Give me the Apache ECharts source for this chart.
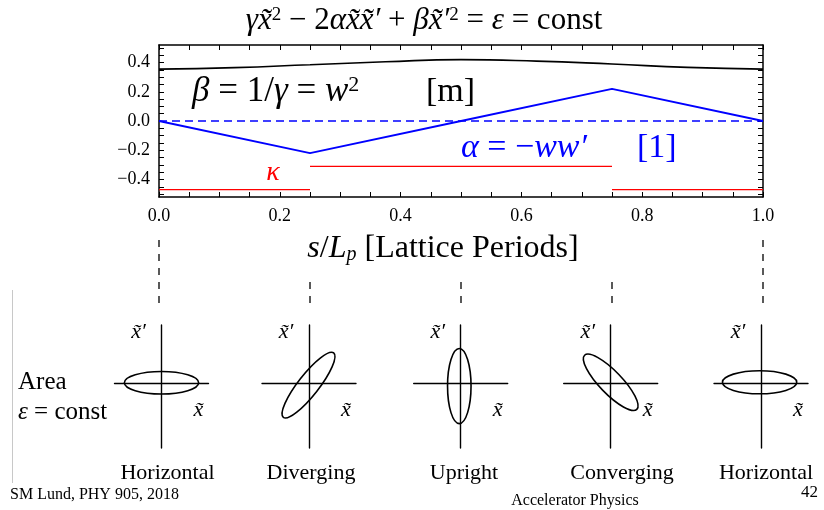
<!DOCTYPE html>
<html><head><meta charset="utf-8">
<script src="https://cdn.jsdelivr.net/npm/echarts@6/dist/echarts.min.js"></script>
<style>html,body{margin:0;padding:0;background:#fff}#c{width:824px;height:510px}</style>
</head><body><div id="c"></div>
<script>
// ---- data ----
const sBeta = [0, 0.125, 0.25, 0.375, 0.5, 0.625, 0.75, 0.875, 1.0];
const beta  = [0.355, 0.365, 0.385, 0.405, 0.42, 0.41, 0.39, 0.367, 0.355];
const sAlpha = [0, 0.25, 0.5, 0.75, 1.0];
const alpha  = [0, -0.22, 0, 0.22, 0];
const kappaStart = [0, 0.25, 0.75];
const kappaEnd   = [0.25, 0.75, 1.0];
const kappaVal   = [-0.47, -0.31, -0.47];
const zeroS = [0, 1];
const zeroV = [0, 0];
const xTicks = [0, 0.2, 0.4, 0.6, 0.8, 1.0];
const xMinor = [0,0.05,0.1,0.15,0.2,0.25,0.3,0.35,0.4,0.45,0.5,0.55,0.6,0.65,0.7,0.75,0.8,0.85,0.9,0.95,1.0];
const yTicks = [-0.4, -0.2, 0, 0.2, 0.4];
const yMinor = [-0.5,-0.45,-0.4,-0.35,-0.3,-0.25,-0.2,-0.15,-0.1,-0.05,0,0.05,0.1,0.15,0.2,0.25,0.3,0.35,0.4,0.45,0.5];
const stations = [0, 0.25, 0.5, 0.75, 1.0];
const stationNames = ['Horizontal', 'Diverging', 'Upright', 'Converging', 'Horizontal'];
const connectorTop = [1, 0.39, 0.39, 0.39, 1];
const ellipseCx = [0, -0.01, -0.03, 0, -0.03];
const ellipseCy = [0.02, -0.03, -0.05, 0.03, 0.03];
const ellipseA = [0.79, 0.87, 0.80, 0.80, 0.79];
const ellipseB = [0.24, 0.22, 0.25, 0.24, 0.245];
const ellipseAngle = [0, 52, 90, -46, 0];

// ---- layout ----
const SERIF = "'Liberation Serif', 'DejaVu Serif', serif";
const diagX = [161.5, 309, 460.7, 610.7, 761];
const nameX = [167.5, 311, 464, 622, 766];
const DW = 94, DTOP = 325, DH = 123;

const grids = [{left: 159, right: 61, top: 45, height: 152}];
diagX.forEach(x => grids.push({left: x - DW / 2, width: DW, top: DTOP, height: DH}));
grids.push({left: 159, right: 61, top: 233, height: 70});
const CONN = grids.length - 1;

const frameLine = {show: true, onZero: false, lineStyle: {color: '#000', width: 1.5}};
function mainX(pos, labels) {
  return {
    gridIndex: 0, type: 'value', min: 0, max: 1, position: pos,
    axisLine: frameLine,
    axisTick: {show: true, inside: true, length: 5, customValues: xMinor, lineStyle: {color: '#000', width: 1}},
    axisLabel: {show: labels, customValues: xTicks, formatter: v => v.toFixed(1), margin: 10,
      color: '#000', fontSize: 18, fontFamily: SERIF},
    splitLine: {show: false}
  };
}
function mainY(pos, labels) {
  return {
    gridIndex: 0, type: 'value', min: -0.52, max: 0.52, position: pos,
    axisLine: frameLine,
    axisTick: {show: true, inside: true, length: 5, customValues: yMinor, lineStyle: {color: '#000', width: 1}},
    axisLabel: {show: labels, customValues: yTicks,
      formatter: v => (v < -1e-9 ? '\u2212' : '') + Math.abs(v).toFixed(1), margin: 9,
      color: '#000', fontSize: 18, fontFamily: SERIF},
    splitLine: {show: false}
  };
}
const xAxes = [mainX('bottom', true), mainX('top', false)];
const yAxes = [mainY('left', true), mainY('right', false)];
xAxes[0].name = '{i|s}{n|/}{i|L}{sub|p}{n| [Lattice Periods]}';
xAxes[0].nameLocation = 'middle';
xAxes[0].nameGap = 36;
xAxes[0].nameTextStyle = {
  padding: [0, 36, 0, 0],
  rich: {
    i: {fontSize: 32, fontStyle: 'italic', fontFamily: SERIF, color: '#000'},
    n: {fontSize: 32, fontFamily: SERIF, color: '#000'},
    sub: {fontSize: 20, fontStyle: 'italic', fontFamily: SERIF, color: '#000', verticalAlign: 'bottom'}
  }
};
const crossLine = {show: true, onZero: true, lineStyle: {color: '#000', width: 1.4}};
for (let i = 0; i < diagX.length; i++) {
  xAxes.push({gridIndex: i + 1, type: 'value', min: -1, max: 1, axisLine: crossLine,
    axisTick: {show: false}, axisLabel: {show: false}, splitLine: {show: false}});
  yAxes.push({gridIndex: i + 1, type: 'value', min: -1.37, max: 1.25, axisLine: crossLine,
    axisTick: {show: false}, axisLabel: {show: false}, splitLine: {show: false}});
}
xAxes.push({gridIndex: CONN, type: 'value', min: 0, max: 1, show: false});
yAxes.push({gridIndex: CONN, type: 'value', min: 0, max: 1, show: false});

// ---- series ----
const series = [];
series.push({type: 'line', xAxisIndex: 0, yAxisIndex: 0, symbol: 'none', smooth: true,
  data: sBeta.map((s, i) => [s, beta[i]]), lineStyle: {color: '#000', width: 1.6}, z: 3});
series.push({type: 'line', xAxisIndex: 0, yAxisIndex: 0, symbol: 'none',
  data: zeroS.map((s, i) => [s, zeroV[i]]), lineStyle: {color: '#0000ff', width: 1.4, type: [8, 5]}, z: 2});
series.push({type: 'line', xAxisIndex: 0, yAxisIndex: 0, symbol: 'none',
  data: sAlpha.map((s, i) => [s, alpha[i]]), lineStyle: {color: '#0000ff', width: 1.8}, z: 3});
kappaVal.forEach((v, i) => series.push({type: 'line', xAxisIndex: 0, yAxisIndex: 0, symbol: 'none',
  data: [[kappaStart[i], v], [kappaEnd[i], v]], lineStyle: {color: '#ff0000', width: 1.3}, z: 3}));
stations.forEach((s, i) => series.push({type: 'line', xAxisIndex: xAxes.length - 1, yAxisIndex: yAxes.length - 1,
  symbol: 'none', clip: false,
  data: [[s, 0], [s, connectorTop[i]]], lineStyle: {color: '#000', width: 1.3, type: [7, 7]}}));
for (let i = 0; i < diagX.length; i++) {
  series.push({
    type: 'custom', xAxisIndex: i + 2, yAxisIndex: i + 2, clip: false,
    data: [[ellipseCx[i], ellipseCy[i], ellipseA[i], ellipseB[i], ellipseAngle[i]]],
    renderItem: function (params, api) {
      const c = api.coord([api.value(0), api.value(1)]);
      const a = api.size([api.value(2), 0])[0];
      const b = api.size([api.value(3), 0])[0];
      return {
        type: 'ellipse', x: c[0], y: c[1], rotation: api.value(4) * Math.PI / 180,
        shape: {cx: 0, cy: 0, rx: a, ry: b},
        style: {fill: 'none', stroke: '#000', lineWidth: 1.6}
      };
    }
  });
}

// ---- text ----
function T(x, y, text, o) {
  o = o || {};
  return {type: 'text', x: x, y: y, z: 10, style: Object.assign({
    text: text, fill: '#000', font: (o.italic ? 'italic ' : '') + (o.size || 20) + 'px ' + SERIF,
    textAlign: o.align || 'left', textVerticalAlign: 'middle'}, o.style || {})};
}
function richStyle(size, color) {
  return {
    i: {fontSize: size, fontStyle: 'italic', fontFamily: SERIF, fill: color},
    n: {fontSize: size, fontFamily: SERIF, fill: color},
    s: {fontSize: Math.round(size * 0.62), fontFamily: SERIF, fill: color, verticalAlign: 'top'}
  };
}
const graphics = [];
graphics.push(T(424, 21, '{i|\u03b3x\u0303}{s|2}{n| \u2212 2}{i|\u03b1x\u0303x\u0303\u2032}{n| + }{i|\u03b2x\u0303\u2032}{s|2}{n| = }{i|\u03b5}{n| = const}',
  {align: 'center', style: {rich: richStyle(31, '#000')}}));
graphics.push(T(192, 92, '{i|\u03b2}{n| = 1/}{i|\u03b3}{n| = }{i|w}{s|2}', {style: {rich: richStyle(35, '#000')}}));
graphics.push(T(426, 92, '[m]', {size: 34}));
graphics.push(T(461, 148, '{i|\u03b1}{n| = \u2212}{i|ww\u2032}', {style: {fill: '#0000ff', rich: richStyle(34, '#0000ff')}}));
graphics.push(T(637, 148, '[1]', {size: 34, style: {fill: '#0000ff'}}));
graphics.push(T(273, 173, '\u03ba', {size: 28, italic: true, align: 'center', style: {fill: '#ff0000'}}));
diagX.forEach((x, i) => {
  graphics.push(T(x - 23, 332, 'x\u0303\u2032', {size: 22, italic: true, align: 'center'}));
  graphics.push(T(x + 37, 410, 'x\u0303', {size: 22, italic: true, align: 'center'}));
  graphics.push(T(nameX[i], 473, stationNames[i], {size: 22, align: 'center'}));
});
graphics.push(T(18, 382, 'Area', {size: 25}));
graphics.push(T(18, 412, '{i|\u03b5}{n| = const}', {style: {rich: richStyle(25, '#000')}}));
graphics.push(T(10, 495, 'SM Lund, PHY 905, 2018', {size: 16}));
graphics.push(T(575, 501, 'Accelerator Physics', {size: 16, align: 'center'}));
graphics.push(T(818, 493, '42', {size: 17, align: 'right'}));
graphics.push({type: 'line', shape: {x1: 12.5, y1: 290, x2: 12.5, y2: 483}, style: {stroke: '#c8c8c8', lineWidth: 1}});

const chart = echarts.init(document.getElementById('c'), null, {renderer: 'canvas'});
chart.setOption({
  animation: false,
  backgroundColor: '#fff',
  grid: grids,
  xAxis: xAxes,
  yAxis: yAxes,
  series: series,
  graphic: graphics
});
</script></body></html>
